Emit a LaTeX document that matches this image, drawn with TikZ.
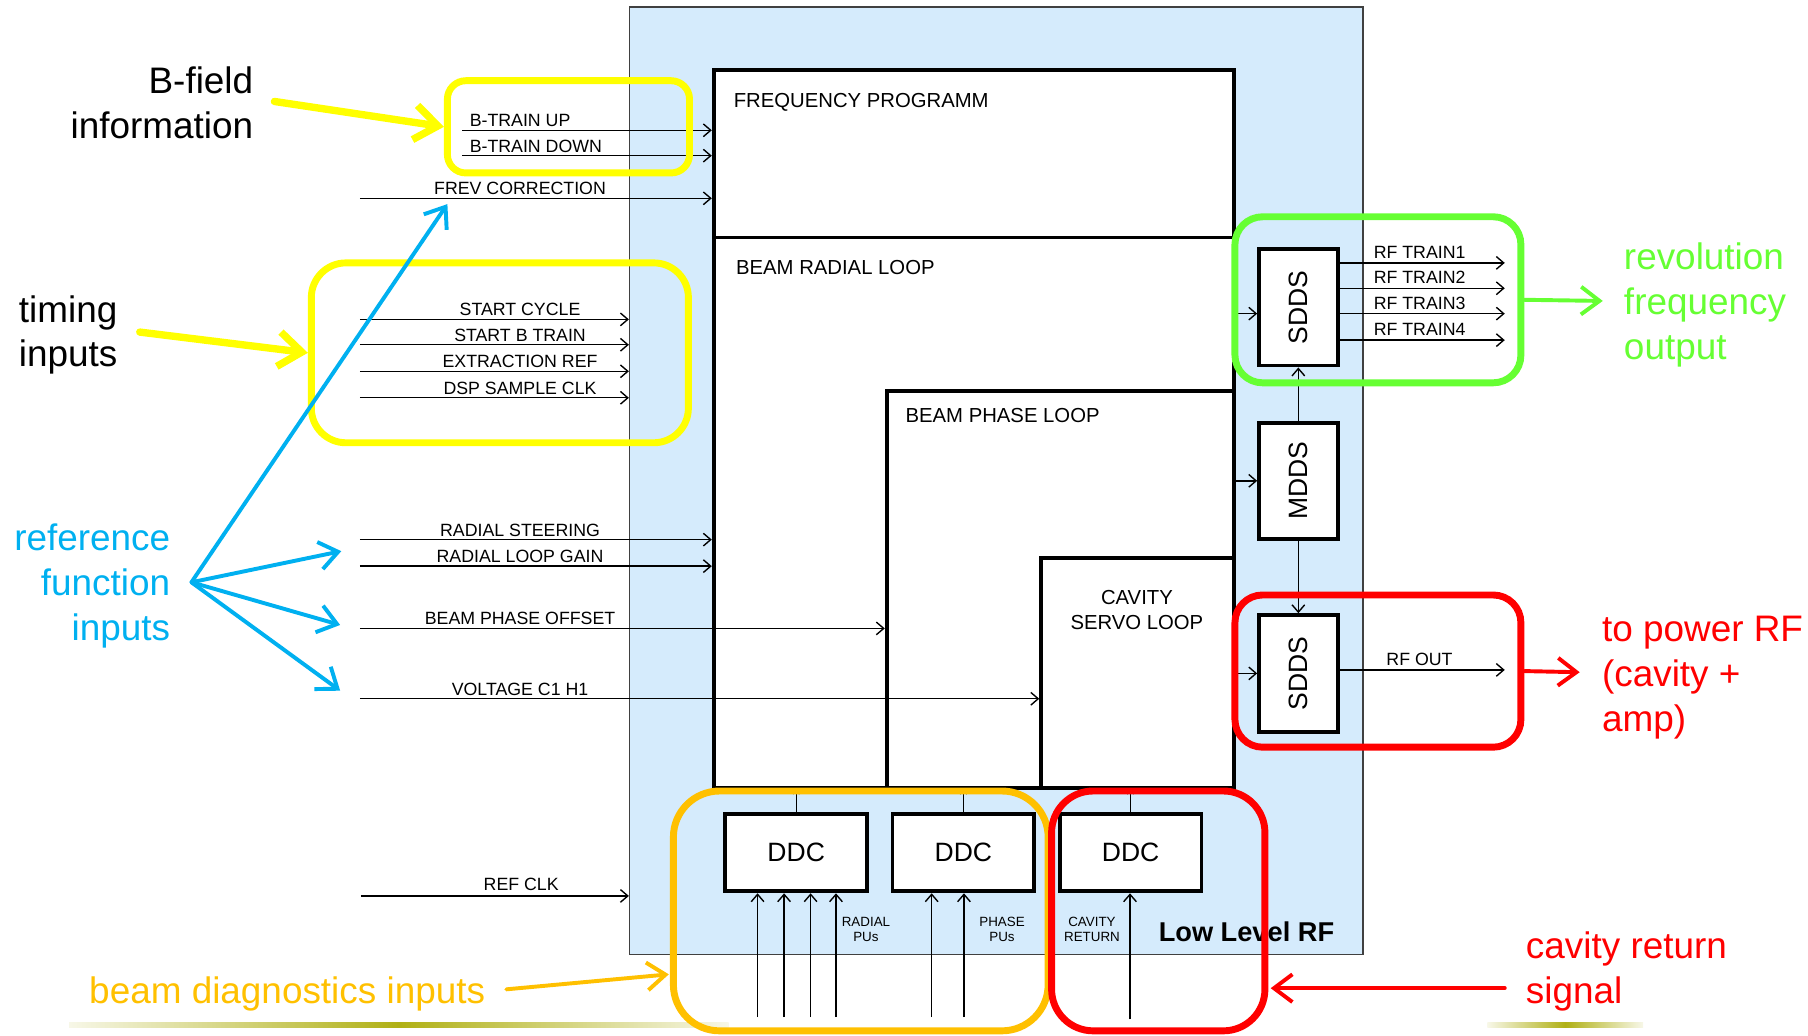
\documentclass[tikz,border=0pt]{standalone}
\usepackage{fontspec}
\setmainfont{Liberation Sans}
\usetikzlibrary{arrows.meta,fit,calc}
\definecolor{llblue}{RGB}{213,235,252}
\definecolor{hiyel}{RGB}{255,255,0}
\definecolor{hiblue}{RGB}{0,176,240}
\definecolor{higreen}{RGB}{102,255,51}
\definecolor{hired}{RGB}{255,0,0}
\definecolor{hiorange}{RGB}{255,192,0}
\definecolor{olivel}{RGB}{176,176,20}
\begin{document}
\begin{tikzpicture}[x=0.5pt,y=-0.5pt,
  blk/.style={draw=black,line width=1.7pt,fill=white,inner sep=0pt},
  dsp/.style={blk,minimum width=34pt,minimum height=50.5pt,font=\fontsize{11.5}{12}\selectfont},
  ddcbox/.style={blk,minimum width=61.5pt,minimum height=33.5pt,font=\fontsize{11.5}{12}\selectfont},
  sig/.style={line width=0.6pt,-{Straight Barb[length=3.2pt,width=5.5pt]}},
  sigs/.style={line width=0.6pt,-{Straight Barb[length=1.5pt,width=3pt]}},
  slbl/.style={font=\fontsize{7.7}{9}\selectfont,inner sep=0pt},
  blbl/.style={font=\fontsize{8.8}{11}\selectfont,inner sep=0pt},
  tiny/.style={font=\fontsize{5.8}{6.6}\selectfont,inner sep=0pt,align=center},
  big/.style={font=\fontsize{16}{19.5}\selectfont,inner sep=0pt},
  hbox/.style={line width=3pt,inner sep=0pt},
  yarr/.style={draw=hiyel,line width=3.2pt,line cap=round,-{Straight Barb[length=10pt,width=15pt]}},
  carr/.style={line width=1.7pt,line cap=round,-{Straight Barb[length=8pt,width=12pt]}},
]
\useasboundingbox (0,0) rectangle (1568,898);

% decorative lines
\shade[left color=olivel!10, right color=olivel!10, middle color=olivel] (60,887) rectangle (632,891);
\shade[left color=olivel!10, right color=olivel!10, middle color=olivel] (1290,887) rectangle (1425,891);

% main LLRF box
\node[fit={(546,6)(1182,828)}, draw=black!75, line width=0.6pt, fill=llblue, inner sep=0pt] (llrf) {};

% loops
\node[blk, fit={(619,206)(1070,683)}] (brl) {};
\node[blk, fit={(619,61)(1070,206)}] (fp) {};
\node[blk, fit={(769,339)(1070,683)}] (bpl) {};
\node[blk, fit={(903,484)(1070,683)}] (csl) {};
\node[blbl, anchor=base west] (fplbl) at (636,93) {FREQUENCY PROGRAMM};
\node[blbl, anchor=base west] (brllbl) at (638,238) {BEAM RADIAL LOOP};
\node[blbl, anchor=base west] (bpllbl) at (785,366) {BEAM PHASE LOOP};
\node[blbl, align=center] (csllbl) at (986,529) {CAVITY\\SERVO LOOP};

% DDS blocks
\node[dsp] (sdds1) at (1126,266.5) {\rotatebox{90}{SDDS}};
\node[dsp] (mdds) at (1126,417) {\rotatebox{90}{MDDS}};
\node[dsp] (sdds2) at (1126,584) {\rotatebox{90}{SDDS}};
\coordinate (s1in) at (1080,272);
\draw[sig] (s1in -| brl.east) -- (s1in -| sdds1.west);
\draw[sig] (bpl.east |- mdds.west) -- (mdds.west);
\draw[sig] (csl.east |- sdds2.west) -- (sdds2.west);
\draw[sig] (mdds.north) -- (sdds1.south);
\draw[sig] (mdds.south) -- (sdds2.north);

% RF train outputs
\foreach \i/\yy in {1/228,2/250,3/272,4/295}{
  \coordinate (oT\i) at (1305,\yy);
  \draw[sig] (oT\i -| sdds1.east) -- (oT\i);
  \node[slbl, anchor=base west] (oTl\i) at (1191,\yy-4) {RF TRAIN\i};
}
\coordinate (oRF) at (1305,581);
\draw[sig] (oRF -| sdds2.east) -- (oRF);
\node[slbl, anchor=base west] (oRFl) at (1202,577) {RF OUT};

% inputs
\coordinate (iBu) at (401,113);
\coordinate (iBd) at (401,135);
\draw[sig] (iBu) -- (iBu -| fp.west);
\draw[sig] (iBd) -- (iBd -| fp.west);
\node[slbl, anchor=base west] (lBu) at (407,110) {B-TRAIN UP};
\node[slbl, anchor=base west] (lBd) at (407,132) {B-TRAIN DOWN};
\coordinate (iFr) at (312,172);
\draw[sig] (iFr) -- (iFr -| fp.west);
\node[slbl, anchor=base] (lFr) at (451,169) {FREV CORRECTION};
\foreach \n/\yy/\t in {a/277/START CYCLE,b/299/START B TRAIN,c/322/EXTRACTION REF,d/345/DSP SAMPLE CLK}{
  \coordinate (iT\n) at (312,\yy);
  \draw[sig] (iT\n) -- (iT\n -| llrf.west);
  \node[slbl, anchor=base] (lT\n) at (451,\yy-3) {\t};
}
\coordinate (iTe) at (313,777);
\draw[sig] (iTe) -- (iTe -| llrf.west);
\node[slbl, anchor=base] (lTe) at (452,772) {REF CLK};
\coordinate (iRs) at (312,468);
\coordinate (iRg) at (312,491);
\draw[sig] (iRs) -- (iRs -| brl.west);
\draw[sig] (iRg) -- (iRg -| brl.west);
\node[slbl, anchor=base] (lRs) at (451,465) {RADIAL STEERING};
\node[slbl, anchor=base] (lRg) at (451,488) {RADIAL LOOP GAIN};
\coordinate (iBp) at (312,545);
\draw[sig] (iBp) -- (iBp -| bpl.west);
\node[slbl, anchor=base] (lBp) at (451,542) {BEAM PHASE OFFSET};
\coordinate (iVc) at (312,606);
\draw[sig] (iVc) -- (iVc -| csl.west);
\node[slbl, anchor=base] (lVc) at (451,603) {VOLTAGE C1 H1};

% DDCs
\node[ddcbox] (ddc1) at (690.5,739.5) {DDC};
\node[ddcbox] (ddc2) at (835.5,739.5) {DDC};
\node[ddcbox] (ddc3) at (980.5,739.5) {DDC};
\draw[sigs] (ddc1.north) -- (ddc1.north |- brl.south);
\draw[sigs] (ddc2.north) -- (ddc2.north |- bpl.south);
\draw[sigs] (ddc3.north) -- (ddc3.north |- csl.south);
\foreach \n/\xx/\d in {1/657/ddc1,2/680/ddc1,3/703/ddc1,4/725/ddc1,5/808/ddc2,6/836/ddc2}{
  \coordinate (pu\n) at (\xx,882);
  \draw[sig] (pu\n) -- (pu\n |- \d.south);
}
\coordinate (pu7) at (980,884);
\draw[sig] (pu7) -- (pu7 |- ddc3.south);
\node[tiny] (lrad) at (751,806) {RADIAL\\PUs};
\node[tiny] (lpha) at (869,806) {PHASE\\PUs};
\node[tiny] (lcav) at (947,806) {CAVITY\\RETURN};
\node[font=\bfseries\fontsize{11.8}{13}\selectfont, inner sep=0pt] (llrflbl) at (1081,808) {Low Level RF};

% highlight boxes
\node[hbox, draw=hiyel, rounded corners=8pt, fit={(388,70)(598,150)}] (ybf) {};
\node[hbox, draw=hiyel, rounded corners=15pt, fit={(270,228)(597,384)}] (ytm) {};
\node[hbox, draw=higreen, rounded corners=12pt, fit={(1071,188)(1319,332)}] (gbox) {};
\node[hbox, draw=hired, rounded corners=12pt, fit={(1071,516)(1319,648)}] (rbox) {};
\node[hbox, draw=hiorange, rounded corners=20pt, fit={(584,686)(909,894)}] (obox) {};
\node[hbox, draw=hired, rounded corners=18pt, fit={(912,686)(1097,894)}] (r2box) {};

% big labels
\node[big, align=right, anchor=east] (bflbl) at (220,89) {B-field\\information};
\node[big, align=left, anchor=west] (tmlbl) at (16,290.5) {timing\\inputs};
\node[big, align=right, anchor=east, text=hiblue] (reflbl) at (148,508.5) {reference\\function\\inputs};
\node[big, align=left, anchor=west, text=higreen] (revlbl) at (1408,264.5) {revolution\\frequency\\output};
\node[big, align=left, anchor=west, text=hired] (pwrlbl) at (1389,587.5) {to power RF\\(cavity +\\amp)};
\node[big, anchor=west, text=hiorange] (bdlbl) at (77,862) {beam diagnostics inputs};
\node[big, align=left, anchor=west, text=hired] (cavlbl) at (1323,842.5) {cavity return\\signal};

% coloured arrows
\draw[yarr] ($(bflbl.east)+(18,-1)$) -- (ybf.west);
\draw[yarr] ($(tmlbl.east)+(19,-2.5)$) -- (ytm.west);
\coordinate (bt1) at (388,177);
\coordinate (bt2) at (296,478);
\coordinate (bt3) at (295,542);
\coordinate (bt4) at (295,599);
\foreach \k in {1,2,3,4}{
  \draw[carr, draw=hiblue] ($(reflbl.east)+(18,-3.5)$) -- (bt\k);
}
\draw[carr, draw=higreen] (gbox.east) -- ($(revlbl.west)+(-18,-3.5)$);
\draw[carr, draw=hired] (rbox.east) -- ($(pwrlbl.west)+(-19,-4.5)$);
\draw[carr, draw=hiorange] ($(bdlbl.east)+(18,-4)$) -- ($(obox.west)+(-1,55)$);
\draw[carr, draw=hired] ($(cavlbl.west)+(-18,14.5)$) -- ($(r2box.east)+(2,67)$);
\end{tikzpicture}
\end{document}
